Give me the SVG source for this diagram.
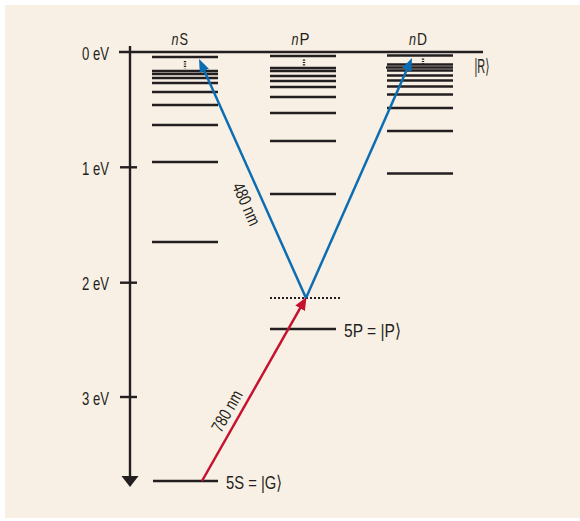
<svg xmlns="http://www.w3.org/2000/svg" width="580" height="521" viewBox="0 0 580 521">
<style>
.bg{fill:#f9f0e5}
.lv{stroke:#231f20;stroke-width:2.6;fill:none}
.ax{stroke:#231f20;stroke-width:2.4;fill:none}
.dots{stroke:#231f20;stroke-width:2.4;stroke-dasharray:1.2 1.2;fill:none}
.vdots{stroke:#231f20;stroke-width:2;stroke-dasharray:2 2;fill:none}
.t{font-family:"Liberation Sans","DejaVu Sans",sans-serif;fill:#231f20}
.it{font-style:italic}
.blue{stroke:#0b6db3;stroke-width:2.5;fill:none}
.red{stroke:#c4122f;stroke-width:2.5;fill:none}
</style>
<defs>
<marker id="ab" markerUnits="userSpaceOnUse" markerWidth="14" markerHeight="12" viewBox="0 0 14 12" refX="5" refY="6" orient="auto"><path d="M0,1 L13,6 L0,11 z" fill="#0b6db3"/></marker>
<marker id="ar" markerUnits="userSpaceOnUse" markerWidth="14" markerHeight="12" viewBox="0 0 14 12" refX="5" refY="6" orient="auto"><path d="M0,0.5 L13,6 L0,11.5 z" fill="#c4122f"/></marker>
</defs>
<rect class="bg" x="5" y="5" width="575" height="513"/>

<g id="axis">
<line class="ax" x1="130" y1="46" x2="130" y2="478"/>
<path d="M121.5,476 L138.5,476 L130,487 z" fill="#231f20"/>
<line class="ax" x1="119" y1="52" x2="483" y2="52"/>
<line class="ax" x1="120" y1="167.3" x2="137" y2="167.3"/>
<line class="ax" x1="120" y1="282.7" x2="137" y2="282.7"/>
<line class="ax" x1="120" y1="397" x2="137" y2="397"/>
<text class="t" x="82" y="59.5" font-size="19" textLength="27" lengthAdjust="spacingAndGlyphs">0 eV</text>
<text class="t" x="82" y="174.8" font-size="19" textLength="27" lengthAdjust="spacingAndGlyphs">1 eV</text>
<text class="t" x="82" y="290.2" font-size="19" textLength="27" lengthAdjust="spacingAndGlyphs">2 eV</text>
<text class="t" x="82" y="404.5" font-size="19" textLength="27" lengthAdjust="spacingAndGlyphs">3 eV</text>
</g>

<g id="nS">
<text class="t it" x="171.5" y="44.5" font-size="16.5" textLength="7" lengthAdjust="spacingAndGlyphs">n</text>
<text class="t" x="179.5" y="44.5" font-size="16.5" textLength="8.5" lengthAdjust="spacingAndGlyphs">S</text>
<path class="lv" d="M152,57H218M152,71H218M152,74H218M152,78H218M152,83H218M152,92H218M152,105H218M152,125H218M152,162H218M152,242H218"/>
<line class="dots" x1="185" y1="61" x2="185" y2="68.5"/>
</g>

<g id="nP">
<text class="t it" x="291.5" y="44.5" font-size="16.5" textLength="7" lengthAdjust="spacingAndGlyphs">n</text>
<text class="t" x="299.5" y="44.5" font-size="16.5" textLength="10" lengthAdjust="spacingAndGlyphs">P</text>
<path class="lv" d="M270,56H336M270,68H336M270,71H336M270,76H336M270,81H336M270,87H336M270,97H336M270,113H336M270,141H336M270,194H336"/>
<line class="dots" x1="304" y1="59.5" x2="304" y2="66.5"/>
</g>

<g id="nD">
<text class="t it" x="409" y="44.5" font-size="16.5" textLength="7" lengthAdjust="spacingAndGlyphs">n</text>
<text class="t" x="417" y="44.5" font-size="16.5" textLength="10" lengthAdjust="spacingAndGlyphs">D</text>
<path class="lv" d="M387,55.5H453M387,64.5H453M386,67.5H453M387,70.5H453M387,75.5H453M387,80.5H453M387,86.5H453M387,94.5H453M387,108H453M387,131H453M387,173.5H453"/>
<line class="dots" x1="423" y1="58.5" x2="423" y2="64"/>
<text class="t" x="474.5" y="73" font-size="20" textLength="15" lengthAdjust="spacingAndGlyphs">|R⟩</text>
</g>

<g id="virtual">
<line class="vdots" x1="270" y1="298" x2="341" y2="298"/>
</g>

<g id="P5">
<line class="lv" x1="270" y1="329" x2="336" y2="329"/>
<text class="t" x="344" y="337" font-size="19" textLength="57" lengthAdjust="spacingAndGlyphs">5P = |P⟩</text>
</g>

<g id="S5">
<line class="lv" x1="153" y1="481" x2="218" y2="481"/>
<text class="t" x="226" y="489" font-size="19" textLength="56" lengthAdjust="spacingAndGlyphs">5S = |G⟩</text>
</g>

<g id="connectors">
<line class="red" x1="202" y1="481" x2="302.55" y2="303.96" marker-end="url(#ar)"/>
<line class="blue" x1="306" y1="298" x2="202.3" y2="66.3" marker-end="url(#ab)"/>
<line class="blue" x1="306" y1="298" x2="408.8" y2="65.3" marker-end="url(#ab)"/>
<text class="t" font-size="17.5" text-anchor="middle" dy="6" transform="translate(246.5,204) rotate(66)" textLength="45" lengthAdjust="spacingAndGlyphs">480 nm</text>
<text class="t" font-size="17.5" text-anchor="middle" dy="6" transform="translate(227,411) rotate(-60.4)" textLength="45" lengthAdjust="spacingAndGlyphs">780 nm</text>
</g>
</svg>
